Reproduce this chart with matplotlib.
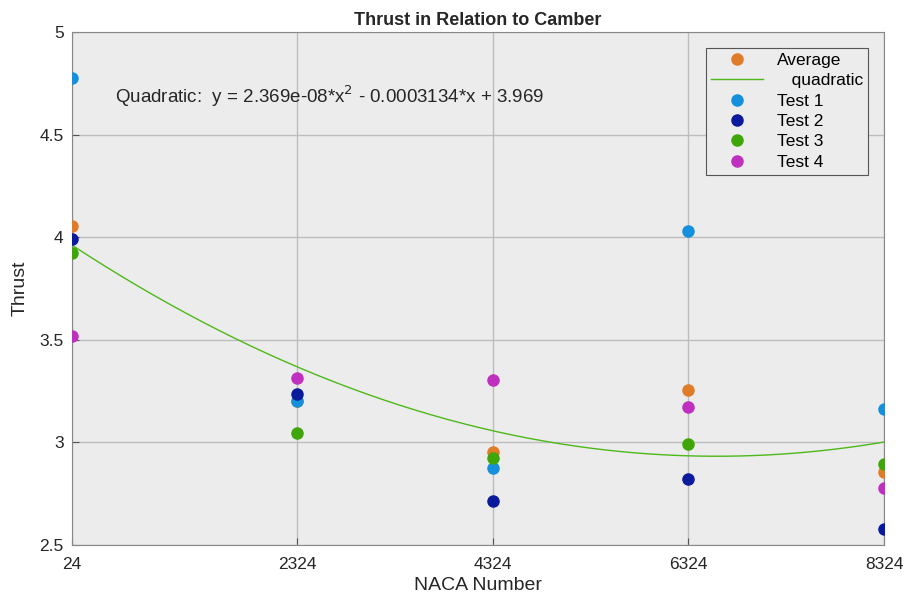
import numpy as np
import matplotlib.pyplot as plt

plt.rcParams['font.family'] = ['Liberation Sans', 'DejaVu Sans']

# datos
naca = np.array([24, 2324, 4324, 6324, 8324])
test1 = np.array([4.776, 3.202, 2.875, 4.030, 3.163])
test2 = np.array([3.991, 3.236, 2.714, 2.822, 2.578])
test3 = np.array([3.923, 3.046, 2.924, 2.992, 2.895])
test4 = np.array([3.519, 3.314, 3.304, 3.173, 2.778])
average = (test1 + test2 + test3 + test4) / 4

coef = [2.369e-08, -0.0003134, 3.969]

fig = plt.figure(figsize=(9.09, 6.04), dpi=100)
ax = fig.add_axes([0.0792, 0.0977, 0.8933, 0.8493])
ax.set_facecolor('#ececec')

xs = np.linspace(naca[0], naca[-1], 300)
ax.plot(naca, average, 'o', color='#e07b28', ms=8, label='Average', zorder=3)
ax.plot(xs, np.polyval(coef, xs), '-', color='#4db81a', lw=1, label='   quadratic', zorder=2)
ax.plot(naca, test1, 'o', color='#1490dc', ms=8, label='Test 1', zorder=3)
ax.plot(naca, test2, 'o', color='#0a1a9c', ms=8, label='Test 2', zorder=3)
ax.plot(naca, test3, 'o', color='#3fa60a', ms=8, label='Test 3', zorder=3)
ax.plot(naca, test4, 'o', color='#c030c0', ms=8, label='Test 4', zorder=3)

ax.set_xlim(naca[0], naca[-1])
ax.set_ylim(2.5, 5)
ax.set_xticks(naca)
ax.set_yticks([2.5, 3, 3.5, 4, 4.5, 5])
ax.set_yticklabels(['2.5', '3', '3.5', '4', '4.5', '5'])
ax.tick_params(direction='in', labelsize=12.5, length=5, color='#555555', labelcolor='#262626')
ax.tick_params(axis='x', pad=9)
ax.tick_params(axis='y', pad=6)
ax.grid(True, color='#bdbdbd', lw=1)
ax.set_axisbelow(True)
for s in ax.spines.values():
    s.set_color('#888888')

ax.text(463, 4.685,
        'Quadratic:  y = %.4g*x$^2$ - %.7f*x + %.3f' % (coef[0], -coef[1], coef[2]),
        fontsize=13.5, color='#262626', va='center')

ax.set_title('Thrust in Relation to Camber', fontsize=13, fontweight='bold', color='#262626', pad=5)
ax.set_xlabel('NACA Number', fontsize=14, color='#262626', labelpad=3)
ax.set_ylabel('Thrust', fontsize=14, color='#262626', labelpad=8)

leg = ax.legend(loc='upper right', fontsize=12.5, frameon=True, fancybox=False,
                edgecolor='#555555', facecolor='#ececec', framealpha=1,
                borderaxespad=0.9, handlelength=3.0, labelspacing=0.3,
                borderpad=0.3)
leg.get_frame().set_linewidth(0.8)

fig.savefig('out.png', dpi=100)
